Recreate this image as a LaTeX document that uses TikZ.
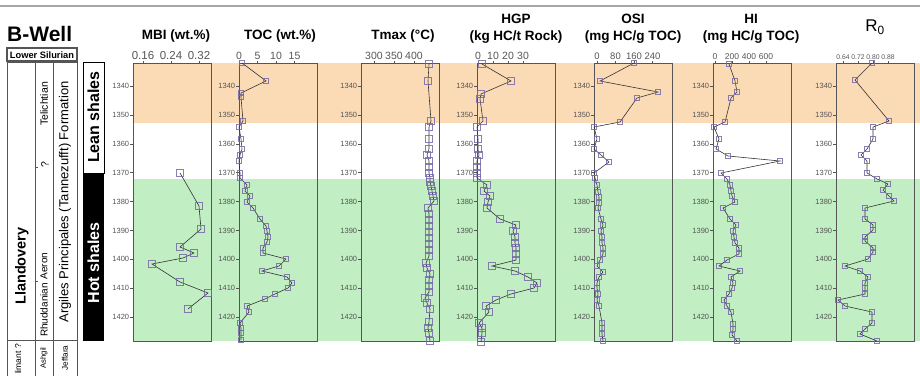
\documentclass[tikz,border=0pt]{standalone}
\usepackage{fontspec}
\setmainfont{Liberation Sans}
\usetikzlibrary{plotmarks}
\definecolor{leanband}{RGB}{251,218,182}
\definecolor{hotband}{RGB}{193,238,194}
\definecolor{markpurple}{RGB}{118,104,168}
\definecolor{framegray}{RGB}{85,85,85}
\begin{document}
\begin{tikzpicture}[x=1pt,y=-1pt,
  panel/.style={draw=framegray, line width=0.9pt},
  depthlbl/.style={anchor=east, inner sep=0.6pt, font=\fontsize{7.5}{8}\selectfont},
  ticklbl/.style={inner sep=0, above=1pt, font=\fontsize{#1}{12}\selectfont},
  ticklbl/.default=10.5,
  ttl/.style={inner sep=0, align=center, font=\fontsize{13.5}{17}\selectfont\bfseries},
  logline/.style={draw=black!80, line width=0.6pt, mark=square, mark size=#1,
    mark options={draw=markpurple, draw opacity=0.85, fill=none, solid, line width=0.55pt}},
  logline/.default=2.5pt,
  stratcell/.style={draw=framegray, line width=0.7pt},
  rottext/.style={rotate=90, inner sep=0}]

\useasboundingbox (0,0) rectangle (920,375);
\draw[gray!70, line width=1.2pt] (0,6) -- (920,6);

% shale bands
\fill[leanband] (133,63) rectangle (920,123);
\fill[hotband] (133,179) rectangle (920,341);

% panels with depth scale
\foreach \bx/\nm in {133/mbi, 239/toc, 361/tmax, 477/hgp, 594/osi, 713/hi, 836/ro} {
  \draw[panel] (\bx,63) rectangle ++(78.5,278);
  \foreach \d in {1340,1350,...,1420}
    \draw[framegray, line width=0.6pt] (\bx,{86+(\d-1340)*2.89}) -- ++(-3,0) node[depthlbl] (\nm-\d) {\d};
}

% titles
\node[ttl] (mbititle) at (176,36) {MBI (wt.\%)};
\node[ttl] (toctitle) at (280,36) {TOC (wt.\%)};
\node[ttl] (tmaxtitle) at (403,36) {Tmax (°C)};
\node[ttl] (hgptitle) at (516,28.5) {HGP\\(kg HC/t Rock)};
\node[ttl] (osititle) at (633,28.5) {OSI\\(mg HC/g TOC)};
\node[ttl] (hititle) at (751,28.5) {HI\\(mg HC/g TOC)};
\node[inner sep=0, font=\fontsize{17}{18}\selectfont] (rotitle) at (875,27) {R\textsubscript{0}};

% top axes
\foreach \px/\v in {143/0.16, 171/0.24, 199/0.32}
  \draw[framegray] (\px,63) -- (\px,60.5) node[ticklbl=11.5] (mbi-x\px) {\v};
\foreach \px/\v in {239/0, 257.5/5, 276/10, 294.5/15}
  \draw[framegray] (\px,63) -- (\px,60.5) node[ticklbl] (toc-x\px) {\v};
\foreach \px/\v in {374/300, 394/350, 414/400}
  \draw[framegray] (\px,63) -- (\px,60.5) node[ticklbl] (tmax-x\px) {\v};
\foreach \px/\v in {478/0, 493/10, 508/20, 523/30}
  \draw[framegray] (\px,63) -- (\px,60.5) node[ticklbl] (hgp-x\px) {\v};
\foreach \px/\v in {597/0, 615.5/80, 634/160, 652.5/240}
  \draw[framegray] (\px,63) -- (\px,60.5) node[ticklbl=9.5] (osi-x\px) {\v};
\foreach \px/\v in {715/0, 732/200, 749/400, 766/600}
  \draw[framegray] (\px,63) -- (\px,60.5) node[ticklbl=8.5] (hi-x\px) {\v};
\foreach \px/\v in {843/0.64, 858/0.72, 873/0.80, 888/0.88}
  \draw[framegray] (\px,63) -- (\px,60.5) node[ticklbl=6.8] (ro-x\px) {\v};

% data
\draw[logline=3.5pt] plot coordinates {(180,173) (199,206) (201,229) (180,247) (194,253) (183,258) (152,264) (180,282) (208,293) (188,309)};
\draw[logline] plot coordinates {(242,63) (266,81) (241,93) (241,97) (243,121) (239,127) (241,139) (242,149) (240,155) (239,161) (240,173) (240,178) (247,185) (245,191) (250,196) (247,202) (253,208) (260,219) (266,226) (267,231) (268,237) (267,242) (263,248) (263,253) (286,259) (279,266) (262,271) (287,277) (292,283) (288,288) (275,294) (265,299) (247,306) (249,312) (240,323) (241,328) (241,333) (241,340)};
\draw[logline=3.5pt] plot coordinates {(429,64) (428,81) (431,121) (429,127) (429,139) (429,149) (427,155) (429,161) (429,167) (429,173) (430,178) (430,182) (431,186) (432,191) (433,196) (434,201) (428,208) (429,214) (429,220) (429,226) (429,232) (429,238) (429,244) (429,250) (429,256) (426,263) (427,268) (430,274) (429,280) (429,286) (429,292) (425,298) (427,303) (430,309) (429,322) (428,328) (429,333) (430,341)};
\draw[logline=3.5pt] plot coordinates {(482,64) (511,81) (481,94) (480,99) (483,121) (477,127) (478,139) (478,149) (479,155) (477,161) (477,167) (477,173) (477,178) (487,185) (484,191) (490,196) (488,202) (487,208) (500,219) (516,225) (513,231) (515,237) (515,243) (516,248) (516,254) (516,260) (492,266) (515,271) (528,277) (537,283) (534,288) (511,294) (496,300) (486,306) (489,312) (479,323) (482,328) (482,333) (481,342)};
\draw[logline] plot coordinates {(634,63) (600,81) (658,92) (637,98) (620,122) (594,127) (597,139) (594,149) (601,155) (609,162) (594,173) (595,178) (597,185) (598,192) (599,197) (599,203) (598,208) (601,219) (603,225) (601,231) (602,237) (602,243) (603,248) (603,254) (600,260) (597,266) (603,272) (599,277) (597,283) (597,288) (598,294) (597,300) (599,306) (602,323) (602,328) (602,334) (603,341)};
\draw[logline] plot coordinates {(729,64) (735,81) (737,92) (731,98) (725,122) (714,127) (719,139) (716,149) (728,156) (780,161) (721,173) (727,179) (730,185) (731,191) (732,196) (735,202) (723,208) (730,219) (736,225) (733,231) (734,237) (735,243) (739,248) (739,254) (727,260) (719,266) (740,271) (731,277) (733,283) (732,288) (729,294) (724,300) (727,306) (731,312) (733,324) (733,329) (732,335) (737,341)};
\draw[logline] plot coordinates {(872,63) (855,80) (889,121) (873,127) (873,139) (867,149) (861,155) (867,161) (867,173) (877,179) (888,184) (883,190) (889,196) (894,201) (865,208) (865,219) (873,225) (873,230) (865,237) (865,241) (873,248) (873,252) (868,259) (845,266) (860,271) (868,277) (865,283) (865,288) (865,294) (838,300) (845,306) (872,312) (872,323) (865,329) (860,334) (877,341)};

% stratigraphy column
\node[inner sep=0, anchor=west, font=\fontsize{21}{22}\selectfont\bfseries] (well) at (7,34) {B-Well};
\draw[stratcell, line width=1.1pt] (7,48) rectangle (77,61);
\node[inner sep=0, font=\fontsize{9.3}{10}\selectfont\bfseries] (silurian) at (42,55) {Lower Silurian};
\draw[stratcell] (7,376) -- (7,62) -- (77,62) -- (77,376);
\draw[stratcell] (35,62) -- (35,376);
\draw[stratcell] (53,62) -- (53,376);
\draw[stratcell] (7,340) -- (77,340);
\draw[stratcell] (35,167) -- (38,167);
\draw[stratcell] (35,281) -- (38,281);
\node[rottext, font=\fontsize{14.5}{15}\selectfont\bfseries] (llandovery) at (22,266) {Llandovery};
\node[rottext, font=\fontsize{10.5}{11}\selectfont] (telichtian) at (44,104) {Telichtian};
\node[rottext, font=\fontsize{10.5}{11}\selectfont] (qmark) at (45,165) {?};
\node[rottext, font=\fontsize{10}{11}\selectfont] (aeron) at (44,266) {Aeron};
\node[rottext, font=\fontsize{10}{11}\selectfont] (rhuddanian) at (44,310) {Rhuddanian};
\node[rottext, font=\fontsize{13}{14}\selectfont] (argiles) at (65,202) {Argiles Principales (Tannezufft) Formation};
\node[rottext, font=\fontsize{8.5}{9}\selectfont] (hirnant) at (18,359) {limant ?};
\node[rottext, font=\fontsize{7.7}{8}\selectfont] (ashgil) at (44,358) {Ashgil};
\node[rottext, font=\fontsize{8.2}{9}\selectfont] (jeffara) at (65,358) {Jeffara};

% shale units
\draw[black, line width=0.8pt, fill=white] (83,62) rectangle (104,173);
\fill[black] (83,173) rectangle (104,341);
\node[rottext, font=\fontsize{16}{17}\selectfont\bfseries] (lean) at (93.5,117) {Lean shales};
\node[rottext, text=white, font=\fontsize{16}{17}\selectfont\bfseries] (hot) at (93.5,263) {Hot shales};
\end{tikzpicture}
\end{document}
